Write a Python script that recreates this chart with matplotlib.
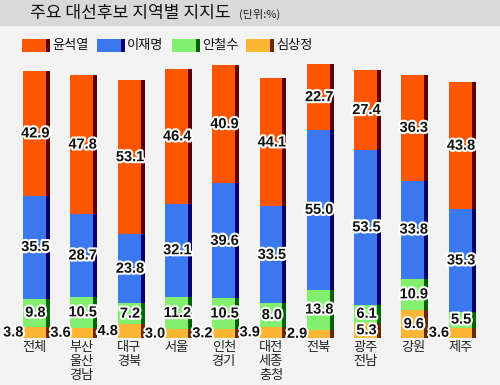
import numpy as np
import matplotlib.pyplot as plt
import matplotlib.patheffects as pe
from matplotlib.patches import Rectangle

plt.rcParams['font.family'] = ['Noto Sans CJK KR', 'DejaVu Sans']

# --- dados ---
regions = ['전체', '부산\n울산\n경남', '대구\n경북', '서울', '인천\n경기',
           '대전\n세종\n충청', '전북', '광주\n전남', '강원', '제주']
sim = [3.8, 3.6, 4.8, 3.0, 3.2, 3.9, 2.9, 5.3, 9.6, 3.6]
ahn = [9.8, 10.5, 7.2, 11.2, 10.5, 8.0, 13.8, 6.1, 10.9, 5.5]
lee = [35.5, 28.7, 23.8, 32.1, 39.6, 33.5, 55.0, 53.5, 33.8, 35.3]
yoon = [42.9, 47.8, 53.1, 46.4, 40.9, 44.1, 22.7, 27.4, 36.3, 43.8]
names = ['윤석열', '이재명', '안철수', '심상정']

# cores na ordem da legenda (윤, 이, 안, 심)
faces = ['#fe5500', '#3b78ef', '#82f06e', '#fbb633']
edges = ['#5c0000', '#00006e', '#006400', '#6b2800']

W, H = 500, 385
fig = plt.figure(figsize=(W / 100, H / 100), dpi=100)
fig.patch.set_facecolor('#f3f3f3')

# faixa do título
fig.patches.append(Rectangle((0, 1 - 26 / H), 1, 26 / H, transform=fig.transFigure,
                             facecolor='#d9d9d9', edgecolor='none', zorder=0))
fig.text(30 / W, 1 - 13 / H, '주요 대선후보 지역별 지지도', fontsize=12.3,
         va='center', ha='left', color='#111111', fontweight='medium')
fig.text(239 / W, 1 - 14 / H, '(단위:%)', fontsize=8, va='center', ha='left', color='#222222')

# legenda
leg_x = [22, 97, 172, 246]
for i, nm in enumerate(names):
    x0 = leg_x[i]
    y0 = 1 - 52 / H
    fig.patches.append(Rectangle((x0 / W, y0), 24 / W, 13 / H, transform=fig.transFigure,
                                 facecolor=faces[i], edgecolor='none'))
    fig.patches.append(Rectangle(((x0 + 24) / W, y0), 4 / W, 13 / H, transform=fig.transFigure,
                                 facecolor=edges[i], edgecolor='none'))
    fig.text((x0 + 30) / W, y0 + 6.5 / H, nm, fontsize=9.5, va='center', ha='left', color='#111111')

pitch = 47.3
px = 1 / 2.9
ax = fig.add_axes([0, 0, 1, 1])
ax.set_xlim(-34.5 / pitch, (W - 34.5) / pitch)
ax.set_ylim(-47 * px, (H - 47) * px)
ax.axis('off')
ax.patch.set_alpha(0)

x = np.arange(len(regions))
fw = 23 / pitch
ew = 4 / pitch
# empilhado de baixo para cima: 심, 안, 이, 윤
stack = np.array([sim, ahn, lee, yoon])
cidx = [3, 2, 1, 0]
bottoms = np.vstack([np.zeros(len(x)), np.cumsum(stack, axis=0)[:-1]])

numfont = dict(family=['Liberation Sans', 'DejaVu Sans'], fontsize=10.5, fontweight='bold',
               color='#111111')
stroke = [pe.withStroke(linewidth=3, foreground='white')]
for k in range(4):
    c = cidx[k]
    ax.bar(x, stack[k], fw, bottom=bottoms[k], color=faces[c], linewidth=0)
    ax.bar(x + fw / 2 + ew / 2, stack[k], ew, bottom=bottoms[k], color=edges[c], linewidth=0)
    for i in range(len(x)):
        v = stack[k][i]
        yc = bottoms[k][i] + v / 2
        if k == 0 and v < 5:
            ax.text(x[i] - fw / 2 + 0.01, yc, f'{v:.1f}', ha='right', va='center',
                    path_effects=stroke, **numfont)
        else:
            ax.text(x[i] + 0.02, yc, f'{v:.1f}', ha='center', va='center',
                    path_effects=stroke, **numfont)

for i, r in enumerate(regions):
    ax.text(x[i], -3.5 * px, r, ha='center', va='top', fontsize=9.5,
            linespacing=1.1, color='#222222')

fig.savefig('out.png', dpi=100, facecolor=fig.get_facecolor())
